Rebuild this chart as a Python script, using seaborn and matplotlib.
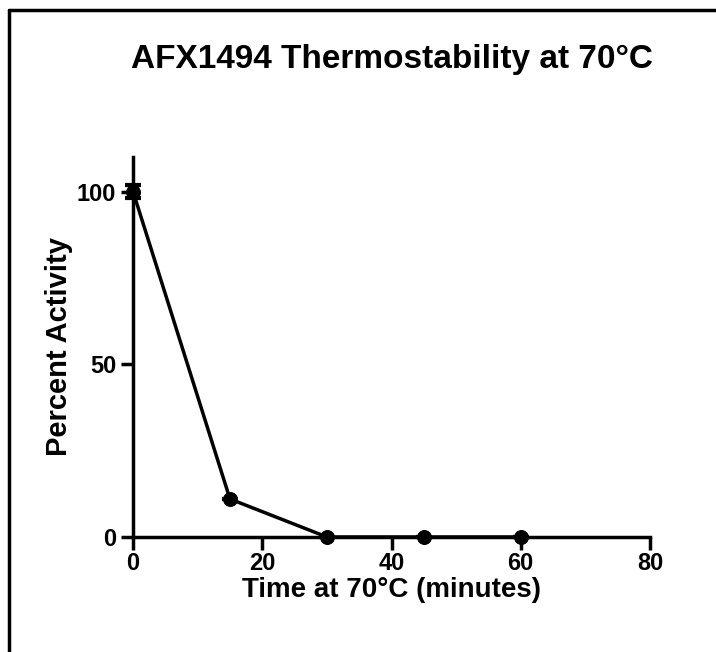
import matplotlib
matplotlib.use("Agg")
import matplotlib.pyplot as plt
import seaborn as sns
import pandas as pd
from matplotlib.lines import Line2D

time_min = [0, 15, 30, 45, 60]
percent_activity = [100, 11, 0, 0, 0]
activity_sd = [2.0, 0.0, 0.0, 0.0, 0.0]
x_ticks = [0, 20, 40, 60, 80]
y_ticks = [0, 50, 100]

df = pd.DataFrame({"time": time_min, "activity": percent_activity, "sd": activity_sd})

sns.set_style("ticks")
plt.rcParams['font.family'] = ['Liberation Sans', 'DejaVu Sans']
plt.rcParams['font.weight'] = 'bold'
plt.rcParams['text.color'] = 'black'
plt.rcParams['axes.labelcolor'] = 'black'
plt.rcParams['xtick.color'] = 'black'
plt.rcParams['ytick.color'] = 'black'
plt.rcParams['axes.edgecolor'] = 'black'

fig = plt.figure(figsize=(7.16, 6.52), dpi=100)
ax = fig.add_axes([0.1858, 0.1764, 0.7220, 0.5828])

sns.lineplot(data=df, x="time", y="activity", ax=ax, color="black", linewidth=2.5,
             marker="o", markersize=10, markeredgecolor="black", clip_on=False, zorder=3)
ax.errorbar(df["time"], df["activity"], yerr=df["sd"], fmt="none", ecolor="black",
            elinewidth=2.5, capsize=6, capthick=3, clip_on=False, zorder=3)

ax.set_xlim(0, 80)
ax.set_ylim(0, 110)
ax.set_xticks(x_ticks)
ax.set_yticks(y_ticks)
ax.tick_params(axis="both", direction="out", length=9, width=2.5, labelsize=17, pad=3,
               colors="black")
ax.tick_params(axis="x", pad=2)
for lab in ax.get_xticklabels() + ax.get_yticklabels():
    lab.set_fontweight("bold")
for s in ["left", "bottom"]:
    ax.spines[s].set_linewidth(2.5)
    ax.spines[s].set_color("black")
sns.despine(ax=ax)
ax.set_xlabel("Time at 70°C (minutes)", fontsize=20, fontweight="bold", labelpad=1, color="black")
ax.set_ylabel("Percent Activity", fontsize=21, fontweight="bold", labelpad=3, color="black")
fig.text(0.547, 0.908, "AFX1494 Thermostability at 70°C", ha="center", va="center",
         fontsize=24, fontweight="bold", color="black")

fig.add_artist(Line2D([0.0125, 1.0], [0.985, 0.985], transform=fig.transFigure, color="black", linewidth=2.5))
fig.add_artist(Line2D([0.0125, 0.0125], [0.0, 0.985], transform=fig.transFigure, color="black", linewidth=2.5))

fig.savefig("out.png", dpi=100)
